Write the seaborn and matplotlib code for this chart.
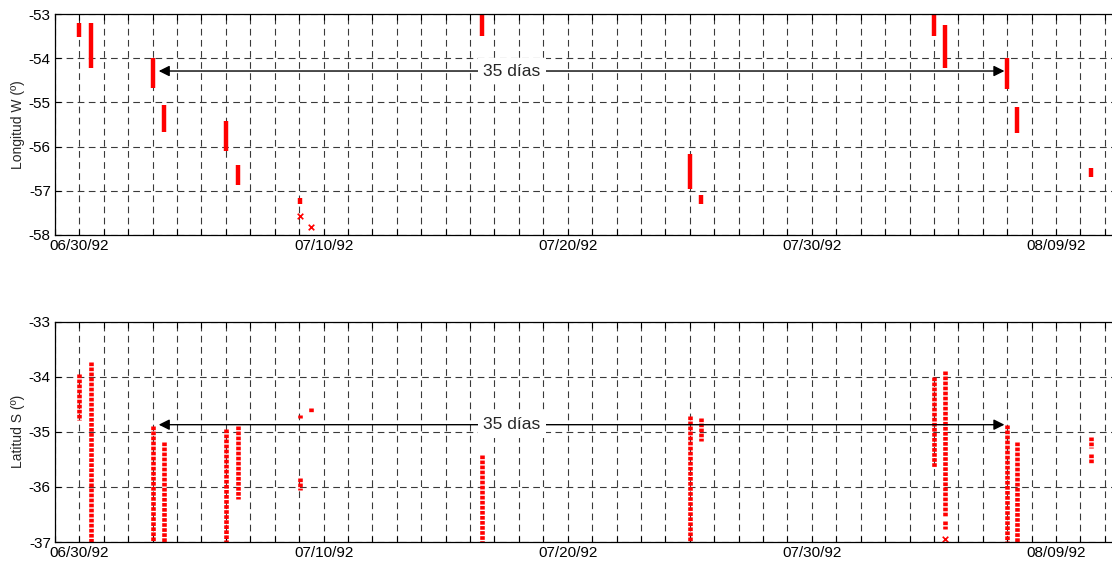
import pandas as pd
import numpy as np
import matplotlib
matplotlib.use("Agg")
import matplotlib.pyplot as plt
import matplotlib.dates as mdates
from matplotlib.ticker import FuncFormatter
import seaborn as sns

# pasadas del satelite: hora, valor superior e inferior de cada tramo
lon_time = ["1992-06-30 00:00", "1992-06-30 11:30", "1992-07-03 00:30", "1992-07-03 11:30",
            "1992-07-06 00:30", "1992-07-06 12:00", "1992-07-09 00:30", "1992-07-16 11:30",
            "1992-07-25 00:00", "1992-07-25 11:00", "1992-08-04 00:00", "1992-08-04 11:00",
            "1992-08-07 00:00", "1992-08-07 10:00", "1992-08-10 10:00"]
lon_top = [-53.21, -53.20, -54.00, -55.06, -55.43, -56.41, -57.16, -53.00,
           -56.16, -57.10, -53.00, -53.25, -54.00, -55.10, -56.49]
lon_bot = [-53.52, -54.23, -54.67, -55.67, -56.11, -56.88, -57.29, -53.50,
           -56.96, -57.30, -53.50, -54.23, -54.69, -55.70, -56.68]
lon_pt_time = ["1992-07-09 00:30", "1992-07-09 11:30"]
lon_pt = [-57.56, -57.81]

lat_time = ["1992-06-30 00:00", "1992-06-30 11:30", "1992-07-03 00:30", "1992-07-03 11:30",
            "1992-07-06 00:30", "1992-07-06 12:00", "1992-07-09 00:30", "1992-07-09 00:30",
            "1992-07-09 11:30", "1992-07-16 11:30", "1992-07-25 00:00", "1992-07-25 11:00",
            "1992-08-04 00:00", "1992-08-04 11:00", "1992-08-04 11:00", "1992-08-07 00:00",
            "1992-08-07 10:00", "1992-08-10 10:00", "1992-08-10 10:00"]
lat_top = [-33.95, -33.74, -34.90, -35.19, -34.95, -34.89, -34.69, -35.84, -34.56, -35.42,
           -34.71, -34.75, -34.00, -33.90, -36.62, -34.87, -35.19, -35.10, -35.40]
lat_bot = [-34.78, -37.00, -37.00, -37.00, -37.00, -36.22, -34.75, -36.06, -34.66, -37.00,
           -37.00, -35.16, -35.63, -36.52, -36.77, -37.00, -37.00, -35.30, -35.57]
lat_pt_time = ["1992-08-04 11:00"]
lat_pt = [-36.95]

arrow_ini = "1992-07-03 00:30"
arrow_fin = "1992-08-07 00:00"
texto_pos = "1992-07-17 17:00"
lon_arrow_y = -54.29
lat_arrow_y = -34.87

x_ini = "1992-06-29 00:00"
x_fin = "1992-08-11 07:00"
dia_ref = pd.Timestamp("1992-06-30")


def tramos(tiempos, sup, inf):
    filas = []
    for i, (t, a, b) in enumerate(zip(tiempos, sup, inf)):
        filas.append({"t": pd.Timestamp(t), "y": a, "seg": i})
        filas.append({"t": pd.Timestamp(t), "y": b, "seg": i})
    return pd.DataFrame(filas)


sns.set_theme(style="ticks")
plt.rcParams["font.family"] = ["Liberation Sans", "DejaVu Sans"]

fig = plt.figure(figsize=(11.12, 5.65), dpi=100)
W, H = 1112, 565
ax1 = fig.add_axes([55 / W, 1 - 235 / H, 1 - 55 / W, 221 / H])
ax2 = fig.add_axes([55 / W, 1 - 542 / H, 1 - 55 / W, 220.3 / H])


def etiqueta(x, pos):
    d = mdates.num2date(x).replace(tzinfo=None)
    if (pd.Timestamp(d).normalize() - dia_ref).days % 10 == 0:
        return d.strftime("%m/%d/%y")
    return ""


def formato(ax, ymin, ymax, ylabel, arrow_y):
    ax.set_xlim(pd.Timestamp(x_ini), pd.Timestamp(x_fin))
    ax.set_ylim(ymin, ymax)
    ax.set_yticks(np.arange(ymin, ymax + 1))
    ax.set_yticklabels([str(v) for v in np.arange(ymin, ymax + 1)])
    ax.xaxis.set_major_locator(mdates.DayLocator())
    ax.xaxis.set_major_formatter(FuncFormatter(etiqueta))
    ax.grid(True, color="#3a3a3a", linestyle=(0, (6, 4)), linewidth=0.8)
    ax.set_axisbelow(True)
    ax.tick_params(direction="in", length=4, width=0.8, top=True, right=False,
                   labelsize=11, colors="black", pad=3)
    for s in ["left", "top", "bottom"]:
        ax.spines[s].set_color("black")
        ax.spines[s].set_linewidth(0.9)
    ax.spines["right"].set_visible(False)
    ax.set_xlabel("")
    ax.set_ylabel(ylabel, fontsize=10, labelpad=3)
    ax.annotate("", xy=(pd.Timestamp(arrow_ini), arrow_y), xytext=(pd.Timestamp(arrow_fin), arrow_y),
                arrowprops=dict(arrowstyle="<|-|>", color="black", lw=1.0, mutation_scale=16,
                                shrinkA=2, shrinkB=4))
    ax.text(pd.Timestamp(texto_pos), arrow_y, "35 días", fontsize=12.5, ha="center", va="center",
            bbox=dict(facecolor="white", edgecolor="none", pad=4))


df_lon = tramos(lon_time, lon_top, lon_bot)
sns.lineplot(data=df_lon, x="t", y="y", units="seg", estimator=None, sort=False,
             color="red", lw=3.2, solid_capstyle="butt", ax=ax1)
sns.scatterplot(x=pd.to_datetime(lon_pt_time), y=lon_pt, marker="x", color="red",
                s=16, linewidth=1.2, ax=ax1)
formato(ax1, -58, -53, "Longitud W (º)", lon_arrow_y)

df_lat = tramos(lat_time, lat_top, lat_bot)
sns.lineplot(data=df_lat, x="t", y="y", units="seg", estimator=None, sort=False,
             color="red", lw=3.3, dashes=False, linestyle=(0, (0.8, 0.3)),
             dash_capstyle="butt", ax=ax2)
sns.scatterplot(x=pd.to_datetime(lat_pt_time), y=lat_pt, marker="x", color="red",
                s=16, linewidth=1.2, ax=ax2)
formato(ax2, -37, -33, "Latitud S (º)", lat_arrow_y)

fig.savefig("out.png", dpi=100)
